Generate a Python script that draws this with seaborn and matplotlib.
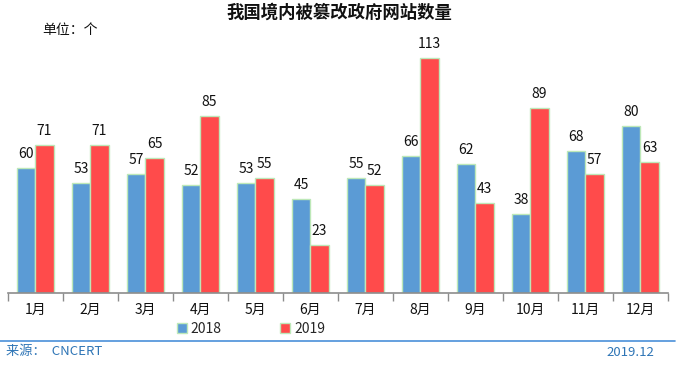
import matplotlib
matplotlib.use("Agg")
import matplotlib.pyplot as plt
import seaborn as sns
import pandas as pd
import numpy as np
from matplotlib.patches import Patch

months = ["1月", "2月", "3月", "4月", "5月", "6月", "7月", "8月", "9月", "10月", "11月", "12月"]
v2018 = [60, 53, 57, 52, 53, 45, 55, 66, 62, 38, 68, 80]
v2019 = [71, 71, 65, 85, 55, 23, 52, 113, 43, 89, 57, 63]
series = ["2018", "2019"]

sns.set_theme(style="white")
plt.rcParams['font.family'] = ['Noto Sans CJK SC', 'DejaVu Sans']

df = pd.DataFrame({
    "month": months * 2,
    "value": v2018 + v2019,
    "year": [series[0]] * 12 + [series[1]] * 12,
})

colors = {"2018": "#5B9BD5", "2019": "#FF4B4B"}
edge = "#BDE8B8"

fig = plt.figure(figsize=(6.78, 3.65), dpi=100)
ax = fig.add_axes([8/678, 1-293/365, 660/678, 250/365])
sns.barplot(data=df, x="month", y="value", hue="year", palette=colors,
            width=0.655, gap=0, ax=ax, edgecolor=edge, linewidth=1, legend=False,
            saturation=1)
for c in ax.containers:
    ax.bar_label(c, padding=5, fontsize=10, color="#111111")

ax.set_ylim(0, 120)
ax.set_xlim(-0.5, 11.5)
ax.set_xlabel("")
ax.set_ylabel("")
ax.set_yticks([])
for s in ["left", "right", "top"]:
    ax.spines[s].set_visible(False)
ax.spines["bottom"].set_color("#8c8c8c")
ax.spines["bottom"].set_linewidth(1.2)
ax.set_xticks(np.arange(-0.5, 12, 1), minor=True)
ax.tick_params(axis="x", which="minor", length=6, color="#8c8c8c", width=1, bottom=True)
ax.tick_params(axis="x", which="major", length=0, pad=7, labelsize=10, labelcolor="#111111")

fig.text(0.5, 1-13/365, "我国境内被篡改政府网站数量", ha="center", va="center",
         fontsize=12.5, fontweight="bold", color="#111111")
fig.text(42/678, 1-30/365, "单位：个", ha="left", va="center", fontsize=10, color="#111111")

handles = [Patch(facecolor=colors[s], edgecolor=edge, label=s) for s in series]
fig.legend(handles=handles, loc="center", bbox_to_anchor=(251/678, 1-329/365), ncol=2,
           frameon=False, fontsize=10, handlelength=0.7, handleheight=0.7,
           handletextpad=0.3, columnspacing=4.2, borderpad=0.1)

fig.add_artist(plt.Line2D([0, 675/678], [1-341/365, 1-341/365], color="#4A90D9", lw=1.2,
                          transform=fig.transFigure))
fig.text(6/678, 1-352/365, "来源：  CNCERT", ha="left", va="center", fontsize=9.5, color="#2E75B6")
fig.text(654/678, 1-352/365, "2019.12", ha="right", va="center", fontsize=9.5, color="#2E75B6")

fig.savefig("out.png", dpi=100)
